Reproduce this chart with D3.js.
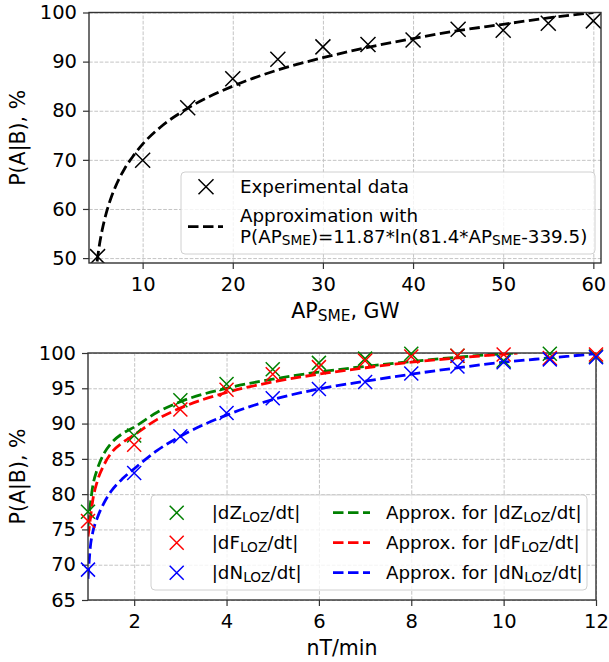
<!DOCTYPE html>
<html>
<head>
<meta charset="utf-8">
<script src="https://cdn.jsdelivr.net/npm/d3@7"></script>
<style>
  body { margin: 0; background: #fff; }
  svg { font-family: "DejaVu Sans", sans-serif; }
</style>
</head>
<body>
<div id="chart"></div>
<script>
// top panel: P(A|B) vs AP_SME
const apX = [5, 10, 15, 20, 25, 30, 35, 40, 45, 50, 55, 60];
const apP = [50.3, 69.9, 80.6, 86.5, 90.5, 93.0, 93.5, 94.4, 96.6, 96.4, 97.8, 98.3];
const apFitX = [4.95, 5, 5.2, 5.5, 6, 6.5, 7, 8, 9, 10, 12, 15, 20, 25, 30, 35, 40, 45, 50, 55, 60];
const apFitP = [49.3, 50.0, 52.6, 55.6, 59.4, 62.3, 64.6, 68.2, 70.9, 73.2, 76.7, 80.5, 85.0, 88.3, 90.8, 92.9, 94.7, 96.3, 97.6, 98.9, 100.0];
const apXTicks = [10, 20, 30, 40, 50, 60];
const apYTicks = [50, 60, 70, 80, 90, 100];

// bottom panel: P(A|B) vs rate, nT/min
const rateX = [1, 2, 3, 4, 5, 6, 7, 8, 9, 10, 11, 12];
const dZ = [77.5, 88.3, 93.3, 95.6, 97.7, 98.6, 99.2, 99.9, 99.6, 98.9, 99.9, 99.5];
const dF = [76.2, 87.0, 92.0, 94.8, 97.0, 98.0, 98.9, 99.5, 99.6, 99.8, 99.3, 99.8];
const dN = [69.3, 83.0, 88.2, 91.5, 93.6, 94.9, 95.9, 97.1, 98.1, 98.7, 99.1, 99.4];
const fitX = [1.0, 1.05, 1.1, 1.2, 1.35, 1.5, 1.75, 2, 2.5, 3, 4, 5, 6, 7, 8, 9, 10, 10.3];
const dZFit = [75.5, 78.5, 81.0, 83.5, 85.8, 87.2, 88.6, 89.5, 91.6, 93.1, 95.0, 96.3, 97.3, 98.1, 98.8, 99.4, 99.9, 100.0];
const dFFit = [74.0, 76.5, 79.0, 81.8, 84.2, 85.8, 87.3, 88.4, 90.6, 92.2, 94.4, 95.9, 97.0, 97.9, 98.7, 99.3, 99.85, 100.0];
const dNFitX = [1.0, 1.05, 1.1, 1.2, 1.35, 1.5, 1.75, 2, 2.5, 3, 4, 5, 6, 7, 8, 9, 10, 11, 12];
const dNFit = [68.0, 72.5, 74.5, 76.6, 78.8, 80.4, 82.2, 83.6, 86.2, 88.2, 91.2, 93.4, 94.9, 96.0, 97.0, 97.9, 98.7, 99.3, 99.9];
const rateXTicks = [2, 4, 6, 8, 10, 12];
const rateYTicks = [65, 70, 75, 80, 85, 90, 95, 100];

const W = 609, H = 662;
const tickFont = 19.5, labelFont = 20.5, legendFont = 18.3;

const svg = d3.select("#chart").append("svg")
    .attr("width", W)
    .attr("height", H);

// text with subscript pieces: parts = [[text, isSub], ...]
function richText(sel, parts, size) {
    const shift = size * 0.16;
    let down = false;
    parts.forEach(([t, sub]) => {
        const ts = sel.append("tspan").text(t)
            .attr("font-size", sub ? size * 0.75 : size);
        if (sub && !down) { ts.attr("dy", shift); down = true; }
        else if (!sub && down) { ts.attr("dy", -shift); down = false; }
    });
    return sel;
}

function xMarker(g, x, y, color, r) {
    g.append("path")
        .attr("d", `M${x - r},${y - r}L${x + r},${y + r}M${x - r},${y + r}L${x + r},${y - r}`)
        .attr("stroke", color)
        .attr("stroke-width", 1.5)
        .attr("fill", "none");
}

function panel(id, box, xDom, yDom, xTicks, yTicks) {
    const x = d3.scaleLinear().domain(xDom).range([box.left, box.right]);
    const y = d3.scaleLinear().domain(yDom).range([box.bottom, box.top]);
    const g = svg.append("g");

    g.append("clipPath").attr("id", id)
        .append("rect")
        .attr("x", box.left).attr("y", box.top)
        .attr("width", box.right - box.left).attr("height", box.bottom - box.top);

    // grid
    g.append("g")
        .attr("transform", `translate(0,${box.bottom})`)
        .call(d3.axisBottom(x).tickValues(xTicks).tickSize(-(box.bottom - box.top)).tickFormat(""))
        .call(s => s.select(".domain").remove());
    g.append("g")
        .attr("transform", `translate(${box.left},0)`)
        .call(d3.axisLeft(y).tickValues(yTicks).tickSize(-(box.right - box.left)).tickFormat(""))
        .call(s => s.select(".domain").remove());
    g.selectAll(".tick line")
        .attr("stroke", "#c4c4c4")
        .attr("stroke-width", 1)
        .attr("stroke-dasharray", "3.7,1.6");

    // axes
    const xa = g.append("g")
        .attr("transform", `translate(0,${box.bottom})`)
        .call(d3.axisBottom(x).tickValues(xTicks).tickSize(6).tickPadding(6).tickSizeOuter(0));
    const ya = g.append("g")
        .attr("transform", `translate(${box.left},0)`)
        .call(d3.axisLeft(y).tickValues(yTicks).tickSize(6).tickPadding(6).tickSizeOuter(0));
    [xa, ya].forEach(a => {
        a.select(".domain").remove();
        a.selectAll(".tick line").attr("stroke", "#333").attr("stroke-width", 1.2);
        a.selectAll(".tick text")
            .attr("font-family", "DejaVu Sans")
            .attr("font-size", tickFont)
            .attr("fill", "#000");
    });
    xa.selectAll(".tick text").attr("dy", "0.82em");

    const plot = svg.append("g").attr("clip-path", `url(#${id})`);
    const front = svg.append("g");
    front.append("rect")
        .attr("x", box.left).attr("y", box.top)
        .attr("width", box.right - box.left).attr("height", box.bottom - box.top)
        .attr("fill", "none")
        .attr("stroke", "#333")
        .attr("stroke-width", 1.4);

    return { x, y, plot, front };
}

function fitLine(p, xs, ys, color) {
    const line = d3.line()
        .x((d, i) => p.x(xs[i]))
        .y(d => p.y(d))
        .curve(d3.curveMonotoneX);
    p.plot.append("path")
        .datum(ys)
        .attr("d", line)
        .attr("fill", "none")
        .attr("stroke", color)
        .attr("stroke-width", 2.8)
        .attr("stroke-dasharray", "10.5,4.5");
}

function legendBox(b) {
    svg.append("rect")
        .attr("x", b.x).attr("y", b.y)
        .attr("width", b.w).attr("height", b.h)
        .attr("rx", 4)
        .attr("fill", "#fff")
        .attr("fill-opacity", 0.8)
        .attr("stroke", "#d0d0d0")
        .attr("stroke-width", 1);
}

// ---------- top panel ----------
const topP = panel("clipTop", { left: 89, right: 601, top: 12.5, bottom: 263 },
    [4.05, 60.85], [49, 100], apXTicks, apYTicks);

fitLine(topP, apFitX, apFitP, "#000");
apX.forEach((v, i) => xMarker(topP.plot, topP.x(v), topP.y(apP[i]), "#000", 7.5));

svg.append("text")
    .attr("x", 345.5).attr("y", 317.5)
    .attr("text-anchor", "middle")
    .attr("font-size", labelFont)
    .call(richText, [["AP", false], ["SME", true], [", GW", false]], labelFont);

svg.append("text")
    .attr("transform", "translate(25,137.8) rotate(-90)")
    .attr("text-anchor", "middle")
    .attr("font-size", labelFont)
    .text("P(A|B), %");

legendBox({ x: 181, y: 172, w: 414, h: 82 });
xMarker(svg, 206, 186.7, "#000", 7.5);
svg.append("text")
    .attr("x", 240).attr("y", 193.3)
    .attr("font-size", legendFont)
    .text("Experimental data");
svg.append("line")
    .attr("x1", 188).attr("x2", 223)
    .attr("y1", 226.7).attr("y2", 226.7)
    .attr("stroke", "#000")
    .attr("stroke-width", 2.8)
    .attr("stroke-dasharray", "10.5,4.5");
svg.append("text")
    .attr("x", 240).attr("y", 221.5)
    .attr("font-size", legendFont)
    .text("Approximation with");
svg.append("text")
    .attr("x", 240).attr("y", 242.5)
    .attr("font-size", legendFont)
    .call(richText, [["P(AP", false], ["SME", true], [")=11.87*ln(81.4*AP", false], ["SME", true], ["-339.5)", false]], legendFont);

// ---------- bottom panel ----------
const botP = panel("clipBot", { left: 88, right: 596, top: 353, bottom: 600 },
    [1, 12], [65, 100], rateXTicks, rateYTicks);

const series = [
    { name: "Z", pts: dZ, fitX: fitX, fit: dZFit, color: "#008000" },
    { name: "F", pts: dF, fitX: fitX, fit: dFFit, color: "#ff0000" },
    { name: "N", pts: dN, fitX: dNFitX, fit: dNFit, color: "#0000ff" }
];

series.forEach(s => {
    rateX.forEach((v, i) => xMarker(botP.front, botP.x(v), botP.y(s.pts[i]), s.color, 7));
});
series.forEach(s => fitLine(botP, s.fitX, s.fit, s.color));

svg.append("text")
    .attr("x", 342).attr("y", 655)
    .attr("text-anchor", "middle")
    .attr("font-size", labelFont)
    .text("nT/min");

svg.append("text")
    .attr("transform", "translate(25,476.5) rotate(-90)")
    .attr("text-anchor", "middle")
    .attr("font-size", labelFont)
    .text("P(A|B), %");

legendBox({ x: 151, y: 495, w: 436, h: 95 });
series.forEach((s, i) => {
    const cy = 512.7 + i * 30;
    xMarker(svg, 176.7, cy, s.color, 7);
    svg.append("text")
        .attr("x", 211.7).attr("y", cy + 6.7)
        .attr("font-size", legendFont)
        .call(richText, [["|d" + s.name, false], ["LOZ", true], ["/dt|", false]], legendFont);
    svg.append("line")
        .attr("x1", 333).attr("x2", 370)
        .attr("y1", cy).attr("y2", cy)
        .attr("stroke", s.color)
        .attr("stroke-width", 2.8)
        .attr("stroke-dasharray", "10.5,4.5");
    svg.append("text")
        .attr("x", 386).attr("y", cy + 6.7)
        .attr("font-size", legendFont)
        .call(richText, [["Approx. for |d" + s.name, false], ["LOZ", true], ["/dt|", false]], legendFont);
});
</script>
</body>
</html>
